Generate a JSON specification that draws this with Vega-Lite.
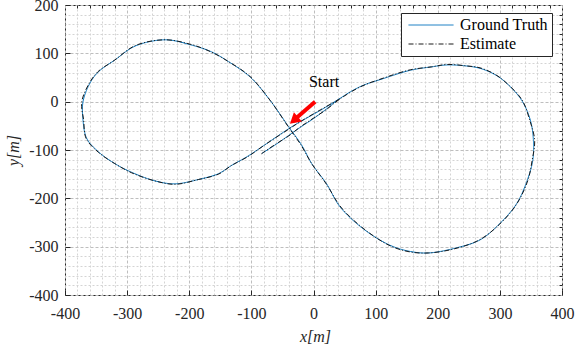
{
  "$schema": "https://vega.github.io/schema/vega-lite/v6.json",
  "width": 497,
  "height": 290,
  "autosize": {"type": "none"},
  "padding": {"left": 65, "top": 5, "right": 14, "bottom": 49},
  "background": "white",
  "config": {
    "view": {"stroke": "#262626", "strokeWidth": 1},
    "font": "Liberation Serif",
    "axis": {
      "labelFont": "Liberation Serif",
      "labelFontSize": 16,
      "labelColor": "#262626",
      "titleFont": "Liberation Serif",
      "titleFontSize": 16,
      "titleFontStyle": "italic",
      "titleFontWeight": "normal",
      "titleColor": "#262626",
      "domain": false,
      "tickColor": "#262626",
      "labelOverlap": false,
      "labelFlush": false,
      "labelBound": false
    }
  },
  "resolve": {"axis": {"x": "independent", "y": "independent"}},
  "datasets": {
    "traj": [
      {"series": "Ground Truth", "i": 1, "x": -83, "y": -107},
      {"series": "Ground Truth", "i": 2, "x": -60, "y": -88},
      {"series": "Ground Truth", "i": 3, "x": -40, "y": -70},
      {"series": "Ground Truth", "i": 4, "x": -20, "y": -52},
      {"series": "Ground Truth", "i": 5, "x": 0, "y": -35},
      {"series": "Ground Truth", "i": 6, "x": 20, "y": -16},
      {"series": "Ground Truth", "i": 7, "x": 43, "y": 7},
      {"series": "Ground Truth", "i": 8, "x": 75, "y": 31},
      {"series": "Ground Truth", "i": 9, "x": 113, "y": 48},
      {"series": "Ground Truth", "i": 10, "x": 156, "y": 65},
      {"series": "Ground Truth", "i": 11, "x": 190, "y": 72},
      {"series": "Ground Truth", "i": 12, "x": 215, "y": 76},
      {"series": "Ground Truth", "i": 13, "x": 245, "y": 74},
      {"series": "Ground Truth", "i": 14, "x": 268, "y": 69},
      {"series": "Ground Truth", "i": 15, "x": 292, "y": 56},
      {"series": "Ground Truth", "i": 16, "x": 311, "y": 38},
      {"series": "Ground Truth", "i": 17, "x": 335, "y": 3},
      {"series": "Ground Truth", "i": 18, "x": 349, "y": -38},
      {"series": "Ground Truth", "i": 19, "x": 354, "y": -80},
      {"series": "Ground Truth", "i": 20, "x": 353, "y": -121},
      {"series": "Ground Truth", "i": 21, "x": 344, "y": -163},
      {"series": "Ground Truth", "i": 22, "x": 327, "y": -211},
      {"series": "Ground Truth", "i": 23, "x": 300, "y": -252},
      {"series": "Ground Truth", "i": 24, "x": 268, "y": -286},
      {"series": "Ground Truth", "i": 25, "x": 225, "y": -304},
      {"series": "Ground Truth", "i": 26, "x": 185, "y": -313},
      {"series": "Ground Truth", "i": 27, "x": 156, "y": -310},
      {"series": "Ground Truth", "i": 28, "x": 123, "y": -297},
      {"series": "Ground Truth", "i": 29, "x": 80, "y": -263},
      {"series": "Ground Truth", "i": 30, "x": 43, "y": -218},
      {"series": "Ground Truth", "i": 31, "x": 21, "y": -170},
      {"series": "Ground Truth", "i": 32, "x": -3, "y": -128},
      {"series": "Ground Truth", "i": 33, "x": -19, "y": -90},
      {"series": "Ground Truth", "i": 34, "x": -40, "y": -52},
      {"series": "Ground Truth", "i": 35, "x": -70, "y": 3},
      {"series": "Ground Truth", "i": 36, "x": -102, "y": 51},
      {"series": "Ground Truth", "i": 37, "x": -137, "y": 83},
      {"series": "Ground Truth", "i": 38, "x": -164, "y": 103},
      {"series": "Ground Truth", "i": 39, "x": -196, "y": 117},
      {"series": "Ground Truth", "i": 40, "x": -239, "y": 128},
      {"series": "Ground Truth", "i": 41, "x": -287, "y": 115},
      {"series": "Ground Truth", "i": 42, "x": -320, "y": 86},
      {"series": "Ground Truth", "i": 43, "x": -346, "y": 62},
      {"series": "Ground Truth", "i": 44, "x": -360, "y": 38},
      {"series": "Ground Truth", "i": 45, "x": -371, "y": 0},
      {"series": "Ground Truth", "i": 46, "x": -371, "y": -38},
      {"series": "Ground Truth", "i": 47, "x": -365, "y": -76},
      {"series": "Ground Truth", "i": 48, "x": -346, "y": -104},
      {"series": "Ground Truth", "i": 49, "x": -320, "y": -128},
      {"series": "Ground Truth", "i": 50, "x": -293, "y": -146},
      {"series": "Ground Truth", "i": 51, "x": -255, "y": -164},
      {"series": "Ground Truth", "i": 52, "x": -223, "y": -170},
      {"series": "Ground Truth", "i": 53, "x": -185, "y": -161},
      {"series": "Ground Truth", "i": 54, "x": -153, "y": -149},
      {"series": "Ground Truth", "i": 55, "x": -132, "y": -132},
      {"series": "Ground Truth", "i": 56, "x": -106, "y": -113},
      {"series": "Ground Truth", "i": 57, "x": -78, "y": -89},
      {"series": "Ground Truth", "i": 58, "x": -40, "y": -56},
      {"series": "Ground Truth", "i": 59, "x": -22, "y": -42},
      {"series": "Ground Truth", "i": 60, "x": 11, "y": -18},
      {"series": "Ground Truth", "i": 61, "x": 43, "y": 7},
      {"series": "Estimate", "i": 1, "x": -84, "y": -108},
      {"series": "Estimate", "i": 2, "x": -61, "y": -88},
      {"series": "Estimate", "i": 3, "x": -40, "y": -71},
      {"series": "Estimate", "i": 4, "x": -21, "y": -52},
      {"series": "Estimate", "i": 5, "x": 0, "y": -34},
      {"series": "Estimate", "i": 6, "x": 21, "y": -16},
      {"series": "Estimate", "i": 7, "x": 43, "y": 6},
      {"series": "Estimate", "i": 8, "x": 76, "y": 31},
      {"series": "Estimate", "i": 9, "x": 113, "y": 49},
      {"series": "Estimate", "i": 10, "x": 156, "y": 66},
      {"series": "Estimate", "i": 11, "x": 190, "y": 72},
      {"series": "Estimate", "i": 12, "x": 215, "y": 77},
      {"series": "Estimate", "i": 13, "x": 246, "y": 74},
      {"series": "Estimate", "i": 14, "x": 268, "y": 70},
      {"series": "Estimate", "i": 15, "x": 293, "y": 56},
      {"series": "Estimate", "i": 16, "x": 312, "y": 37},
      {"series": "Estimate", "i": 17, "x": 336, "y": 3},
      {"series": "Estimate", "i": 18, "x": 348, "y": -38},
      {"series": "Estimate", "i": 19, "x": 356, "y": -80},
      {"series": "Estimate", "i": 20, "x": 352, "y": -121},
      {"series": "Estimate", "i": 21, "x": 345, "y": -163},
      {"series": "Estimate", "i": 22, "x": 327, "y": -212},
      {"series": "Estimate", "i": 23, "x": 300, "y": -253},
      {"series": "Estimate", "i": 24, "x": 267, "y": -286},
      {"series": "Estimate", "i": 25, "x": 225, "y": -305},
      {"series": "Estimate", "i": 26, "x": 185, "y": -313},
      {"series": "Estimate", "i": 27, "x": 156, "y": -311},
      {"series": "Estimate", "i": 28, "x": 123, "y": -298},
      {"series": "Estimate", "i": 29, "x": 80, "y": -262},
      {"series": "Estimate", "i": 30, "x": 44, "y": -218},
      {"series": "Estimate", "i": 31, "x": 21, "y": -171},
      {"series": "Estimate", "i": 32, "x": -3, "y": -128},
      {"series": "Estimate", "i": 33, "x": -20, "y": -90},
      {"series": "Estimate", "i": 34, "x": -40, "y": -53},
      {"series": "Estimate", "i": 35, "x": -70, "y": 3},
      {"series": "Estimate", "i": 36, "x": -102, "y": 52},
      {"series": "Estimate", "i": 37, "x": -137, "y": 83},
      {"series": "Estimate", "i": 38, "x": -165, "y": 103},
      {"series": "Estimate", "i": 39, "x": -196, "y": 118},
      {"series": "Estimate", "i": 40, "x": -239, "y": 128},
      {"series": "Estimate", "i": 41, "x": -287, "y": 116},
      {"series": "Estimate", "i": 42, "x": -320, "y": 86},
      {"series": "Estimate", "i": 43, "x": -347, "y": 62},
      {"series": "Estimate", "i": 44, "x": -361, "y": 38},
      {"series": "Estimate", "i": 45, "x": -373, "y": 0},
      {"series": "Estimate", "i": 46, "x": -370, "y": -38},
      {"series": "Estimate", "i": 47, "x": -366, "y": -76},
      {"series": "Estimate", "i": 48, "x": -346, "y": -105},
      {"series": "Estimate", "i": 49, "x": -320, "y": -128},
      {"series": "Estimate", "i": 50, "x": -293, "y": -147},
      {"series": "Estimate", "i": 51, "x": -255, "y": -164},
      {"series": "Estimate", "i": 52, "x": -223, "y": -171},
      {"series": "Estimate", "i": 53, "x": -185, "y": -161},
      {"series": "Estimate", "i": 54, "x": -153, "y": -150},
      {"series": "Estimate", "i": 55, "x": -132, "y": -132},
      {"series": "Estimate", "i": 56, "x": -106, "y": -114},
      {"series": "Estimate", "i": 57, "x": -78, "y": -89},
      {"series": "Estimate", "i": 58, "x": -40, "y": -57},
      {"series": "Estimate", "i": 59, "x": -22, "y": -42},
      {"series": "Estimate", "i": 60, "x": 11, "y": -17},
      {"series": "Estimate", "i": 61, "x": 43, "y": 6}
    ],
    "arrow": [
      {"x": 2.6, "y": -0.4, "x2": -29, "y2": -35.5}
    ],
    "arrowhead": [
      {"x": -31.5, "y": -38.5}
    ],
    "note": [
      {"x": 17, "y": 40.4, "text": "Start"}
    ]
  },
  "layer": [
    {
      "data": {"name": "arrow"},
      "mark": {"type": "rule", "color": "#ff0000", "strokeWidth": 0, "opacity": 0},
      "encoding": {
        "x": {
          "field": "x",
          "type": "quantitative",
          "scale": {"domain": [-400, 400], "nice": false, "zero": false},
          "axis": {
            "orient": "top",
            "values": [-380,-360,-340,-320,-280,-260,-240,-220,-180,-160,-140,-120,-80,-60,-40,-20,20,40,60,80,120,140,160,180,220,240,260,280,320,340,360,380],
            "grid": true,
            "gridColor": "#d4d4d4",
            "gridDash": [2, 2],
            "labels": false,
            "tickSize": -3,
            "title": null
          }
        },
        "y": {
          "field": "y",
          "type": "quantitative",
          "scale": {"domain": [-400, 200], "nice": false, "zero": false},
          "axis": {
            "orient": "right",
            "values": [-380,-360,-340,-320,-280,-260,-240,-220,-180,-160,-140,-120,-80,-60,-40,-20,20,40,60,80,120,140,160,180],
            "grid": true,
            "gridColor": "#d4d4d4",
            "gridDash": [2, 2],
            "labels": false,
            "tickSize": -3,
            "title": null
          }
        }
      }
    },
    {
      "data": {"name": "traj"},
      "mark": {"type": "line", "strokeWidth": 1, "interpolate": "catmull-rom"},
      "encoding": {
        "x": {
          "field": "x",
          "type": "quantitative",
          "axis": {
            "orient": "bottom",
            "values": [-400, -300, -200, -100, 0, 100, 200, 300, 400],
            "grid": true,
            "gridColor": "#bebebe",
            "gridDash": [3, 2],
            "labelExpr": "'' + datum.value",
            "tickSize": -5,
            "labelPadding": 15,
            "title": "x[m]",
            "titleX": 250,
            "titleY": 41,
            "titleBaseline": "middle"
          }
        },
        "y": {
          "field": "y",
          "type": "quantitative",
          "axis": {
            "orient": "left",
            "values": [-400, -300, -200, -100, 0, 100, 200],
            "grid": true,
            "gridColor": "#bebebe",
            "gridDash": [3, 2],
            "labelExpr": "'' + datum.value",
            "tickSize": -5,
            "labelPadding": 12,
            "title": "y[m]",
            "titleX": -52,
            "titleY": 145,
            "titleAlign": "center",
            "titleBaseline": "middle"
          }
        },
        "order": {"field": "i", "type": "quantitative"},
        "color": {
          "field": "series",
          "type": "nominal",
          "scale": {"domain": ["Ground Truth", "Estimate"], "range": ["#0072BD", "#1a1a1a"]},
          "legend": {
            "title": null,
            "orient": "none",
            "legendX": 336,
            "legendY": 8,
            "symbolType": "M-1,0H9",
            "symbolSize": 81,
            "symbolStrokeWidth": 1,
            "labelFont": "Liberation Serif",
            "labelFontSize": 16,
            "labelColor": "#000000",
            "strokeColor": "#262626",
            "fillColor": "white",
            "padding": 4,
            "rowPadding": 3,
            "labelOffset": 39
          }
        },
        "strokeDash": {
          "field": "series",
          "type": "nominal",
          "scale": {"domain": ["Ground Truth", "Estimate"], "range": [[1, 0], [5, 2, 1, 2]]},
          "legend": {
            "title": null,
            "orient": "none",
            "legendX": 336,
            "legendY": 8,
            "symbolType": "M-1,0H9",
            "symbolSize": 81,
            "symbolStrokeWidth": 1,
            "labelFont": "Liberation Serif",
            "labelFontSize": 16,
            "labelColor": "#000000",
            "strokeColor": "#262626",
            "fillColor": "white",
            "padding": 4,
            "rowPadding": 3,
            "labelOffset": 39
          }
        }
      }
    },
    {
      "data": {"name": "arrow"},
      "mark": {"type": "rule", "color": "#ff0000", "strokeWidth": 4, "strokeCap": "butt"},
      "encoding": {
        "x": {"field": "x", "type": "quantitative", "axis": null},
        "y": {"field": "y", "type": "quantitative", "axis": null},
        "x2": {"field": "x2"},
        "y2": {"field": "y2"}
      }
    },
    {
      "data": {"name": "arrowhead"},
      "mark": {"type": "point", "shape": "triangle-up", "filled": true, "color": "#ff0000", "opacity": 1, "size": 150, "angle": 229},
      "encoding": {
        "x": {"field": "x", "type": "quantitative", "axis": null},
        "y": {"field": "y", "type": "quantitative", "axis": null}
      }
    },
    {
      "data": {"name": "note"},
      "mark": {"type": "text", "font": "Liberation Serif", "fontSize": 16, "color": "#000000", "align": "center", "baseline": "middle"},
      "encoding": {
        "x": {"field": "x", "type": "quantitative", "axis": null},
        "y": {"field": "y", "type": "quantitative", "axis": null},
        "text": {"field": "text", "type": "nominal"}
      }
    }
  ]
}
